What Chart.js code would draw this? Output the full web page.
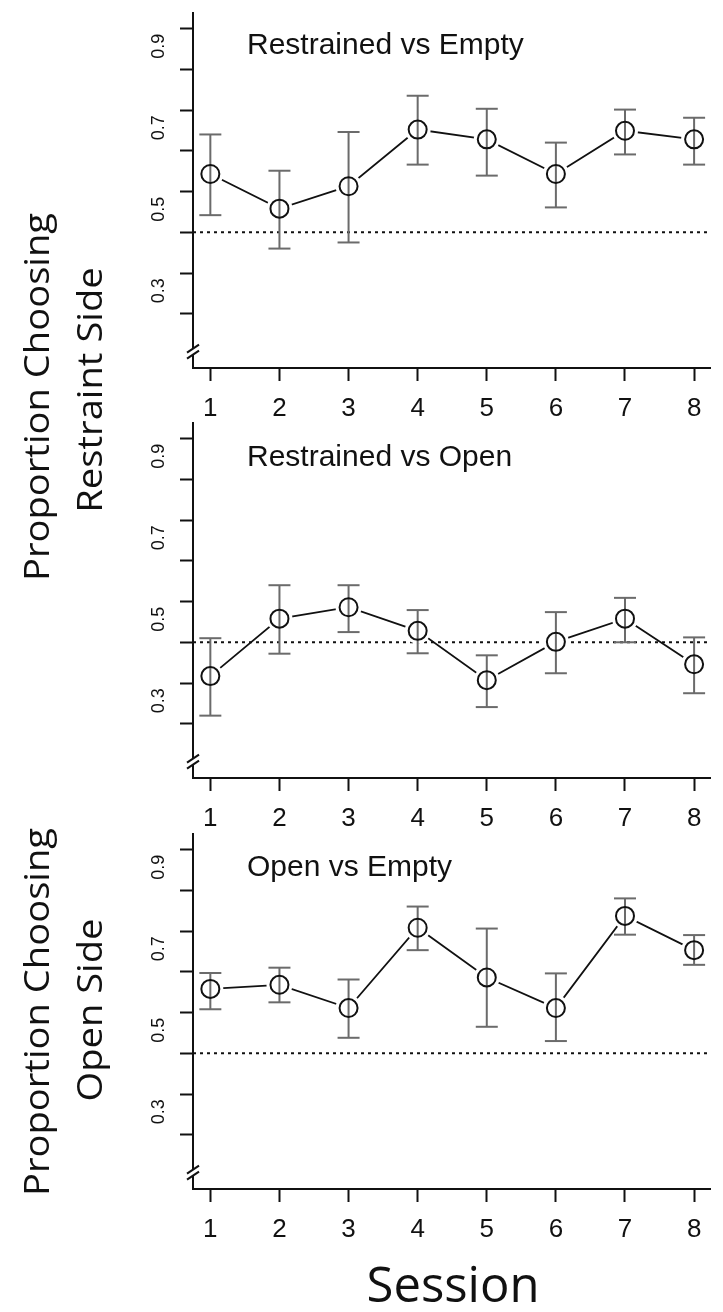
<!DOCTYPE html>
<html>
<head>
<meta charset="utf-8">
<script src="https://cdn.jsdelivr.net/npm/chart.js@4.4.1/dist/chart.umd.min.js"></script>
<style>
    body { margin: 0; background: #fff; }
    #wrap { position: relative; width: 723px; height: 1312px; overflow: hidden; background: #fff; }
    .panel { position: absolute; left: 0; }
    .ptitle {
        position: absolute; left: 247px; white-space: nowrap; color: #111;
        font-family: "Liberation Sans", Arial, sans-serif; font-size: 30px; line-height: 30px;
    }
    .ytitle {
        position: absolute; width: 600px; height: 36px; line-height: 36px; text-align: center;
        font-family: "Open Sans", "Noto Sans", sans-serif; font-size: 35px; color: #111;
        white-space: nowrap; transform: rotate(-90deg) scaleX(1.09);
    }
    #session {
        position: absolute; left: 453px; top: 1259px; transform: translateX(-50%);
        font-family: "Open Sans", "Noto Sans", sans-serif; font-size: 49px; line-height: 49px; color: #111;
    }
</style>
</head>
<body>
<div id="wrap">
    <canvas id="chartEmpty" class="panel" width="723" height="440" style="top:0px"></canvas>
    <canvas id="chartOpen" class="panel" width="723" height="440" style="top:410px"></canvas>
    <canvas id="chartOpenEmpty" class="panel" width="723" height="440" style="top:821px"></canvas>

    <div class="ptitle" style="top:29px">Restrained vs Empty</div>
    <div class="ptitle" style="top:441px">Restrained vs Open</div>
    <div class="ptitle" style="top:851px">Open vs Empty</div>

    <div class="ytitle" style="left:-264px; top:379px">Proportion Choosing</div>
    <div class="ytitle" style="left:-211px; top:372px">Restraint Side</div>
    <div class="ytitle" style="left:-264px; top:994px">Proportion Choosing</div>
    <div class="ytitle" style="left:-211px; top:992px">Open Side</div>

    <div id="session">Session</div>
</div>

<script>
const sessions = [1, 2, 3, 4, 5, 6, 7, 8];

// Restrained vs Empty
const restrainedEmptyMean = [0.643, 0.558, 0.613, 0.752, 0.728, 0.643, 0.749, 0.728];
const restrainedEmptyLow  = [0.542, 0.460, 0.475, 0.666, 0.639, 0.561, 0.691, 0.666];
const restrainedEmptyHigh = [0.740, 0.651, 0.746, 0.835, 0.803, 0.720, 0.801, 0.781];

// Restrained vs Open
const restrainedOpenMean = [0.417, 0.558, 0.586, 0.528, 0.407, 0.501, 0.558, 0.446];
const restrainedOpenLow  = [0.320, 0.472, 0.525, 0.473, 0.341, 0.424, 0.500, 0.375];
const restrainedOpenHigh = [0.510, 0.640, 0.640, 0.579, 0.468, 0.574, 0.609, 0.512];

// Open vs Empty
const openEmptyMean = [0.658, 0.668, 0.611, 0.808, 0.686, 0.611, 0.837, 0.753];
const openEmptyLow  = [0.608, 0.625, 0.538, 0.753, 0.565, 0.530, 0.791, 0.717];
const openEmptyHigh = [0.697, 0.710, 0.681, 0.860, 0.806, 0.696, 0.880, 0.790];

const yTicks = [0.3, 0.4, 0.5, 0.6, 0.7, 0.8, 0.9, 1.0];
const yTickLabels = ['0.3', '', '0.5', '', '0.7', '', '0.9', ''];
const chanceLevel = 0.5;
const breakAt = 0.207;

const xMin = 0.749, xMax = 8.23;
const yMin = 0.167, yMax = 1.038;

const ink = '#111';
const barGrey = '#6b6b6b';

Chart.defaults.font.family = '"Liberation Sans", Arial, sans-serif';

// the "//" mark near the bottom of the y axis
const axisBreak = {
    id: 'axisBreak',
    afterDraw(chart) {
        const ctx = chart.ctx;
        const y = chart.scales.y.getPixelForValue(breakAt);
        const x = chart.scales.y.right;
        ctx.save();
        ctx.fillStyle = '#fff';
        ctx.fillRect(x - 2, y - 3, 4, 6);
        ctx.strokeStyle = ink;
        ctx.lineWidth = 2;
        [-3, 3].forEach(d => {
            ctx.beginPath();
            ctx.moveTo(x - 6, y + d + 4);
            ctx.lineTo(x + 6, y + d - 4);
            ctx.stroke();
        });
        ctx.restore();
    }
};

function zeroPadding(scale) {
    scale.paddingTop = 0;
    scale.paddingBottom = 0;
    scale.paddingLeft = 0;
    scale.paddingRight = 0;
}

function buildPanel(canvasId, mean, low, high) {
    const points = sessions.map((s, i) => ({ x: s, y: mean[i] }));
    const stems = [];
    sessions.forEach((s, i) => {
        stems.push({ x: s, y: low[i] }, { x: s, y: high[i] }, { x: s, y: null });
    });
    const caps = sessions.map((s, i) => ({ x: s, y: low[i] }))
        .concat(sessions.map((s, i) => ({ x: s, y: high[i] })));

    const ctx = document.getElementById(canvasId).getContext('2d');
    return new Chart(ctx, {
        type: 'scatter',
        data: {
            datasets: [
                {
                    data: [{ x: xMin, y: chanceLevel }, { x: xMax, y: chanceLevel }],
                    showLine: true, borderColor: ink, borderWidth: 2, borderDash: [3, 4],
                    pointRadius: 0, order: 6
                },
                {
                    data: points, showLine: true, borderColor: ink, borderWidth: 1.8,
                    pointRadius: 0, order: 5
                },
                {
                    // white halo so the connecting line stops short of the circles
                    data: points, showLine: false, pointRadius: 13,
                    pointBackgroundColor: '#fff', pointBorderWidth: 0, order: 4
                },
                {
                    data: stems, showLine: true, spanGaps: false, borderColor: barGrey,
                    borderWidth: 2, pointRadius: 0, order: 3
                },
                {
                    data: caps, showLine: false, pointStyle: 'line', pointRadius: 11,
                    pointBorderColor: barGrey, pointBorderWidth: 2, order: 2
                },
                {
                    data: points, showLine: false, pointRadius: 9,
                    pointBackgroundColor: 'rgba(0,0,0,0)', pointBorderColor: ink,
                    pointBorderWidth: 2, order: 1
                }
            ]
        },
        options: {
            responsive: false,
            animation: false,
            events: [],
            layout: { padding: { top: 9, right: 0, bottom: 0, left: 0 } },
            plugins: {
                legend: { display: false },
                tooltip: { enabled: false }
            },
            scales: {
                x: {
                    type: 'linear', position: 'bottom', min: xMin, max: xMax,
                    afterBuildTicks: s => { s.ticks = sessions.map(v => ({ value: v })); },
                    afterFit: s => { s.height = 72; zeroPadding(s); },
                    grid: { drawOnChartArea: false, drawTicks: true, tickLength: 13, tickWidth: 2, tickColor: ink },
                    border: { display: true, color: ink, width: 2 },
                    ticks: {
                        padding: 12, color: ink, autoSkip: false, maxRotation: 0,
                        font: { size: 26 }, callback: v => String(v)
                    }
                },
                y: {
                    min: yMin, max: yMax,
                    afterBuildTicks: s => { s.ticks = yTicks.map(v => ({ value: v })); },
                    afterFit: s => { s.width = 193; zeroPadding(s); },
                    grid: { drawOnChartArea: false, drawTicks: true, tickLength: 13, tickWidth: 2, tickColor: ink },
                    border: { display: true, color: ink, width: 2 },
                    ticks: {
                        padding: 8, color: ink, autoSkip: false, minRotation: 90, maxRotation: 90,
                        crossAlign: 'center', labelOffset: -23, font: { size: 18 },
                        callback: (v, i) => yTickLabels[i]
                    }
                }
            }
        },
        plugins: [axisBreak]
    });
}

buildPanel('chartEmpty', restrainedEmptyMean, restrainedEmptyLow, restrainedEmptyHigh);
buildPanel('chartOpen', restrainedOpenMean, restrainedOpenLow, restrainedOpenHigh);
buildPanel('chartOpenEmpty', openEmptyMean, openEmptyLow, openEmptyHigh);
</script>
</body>
</html>
